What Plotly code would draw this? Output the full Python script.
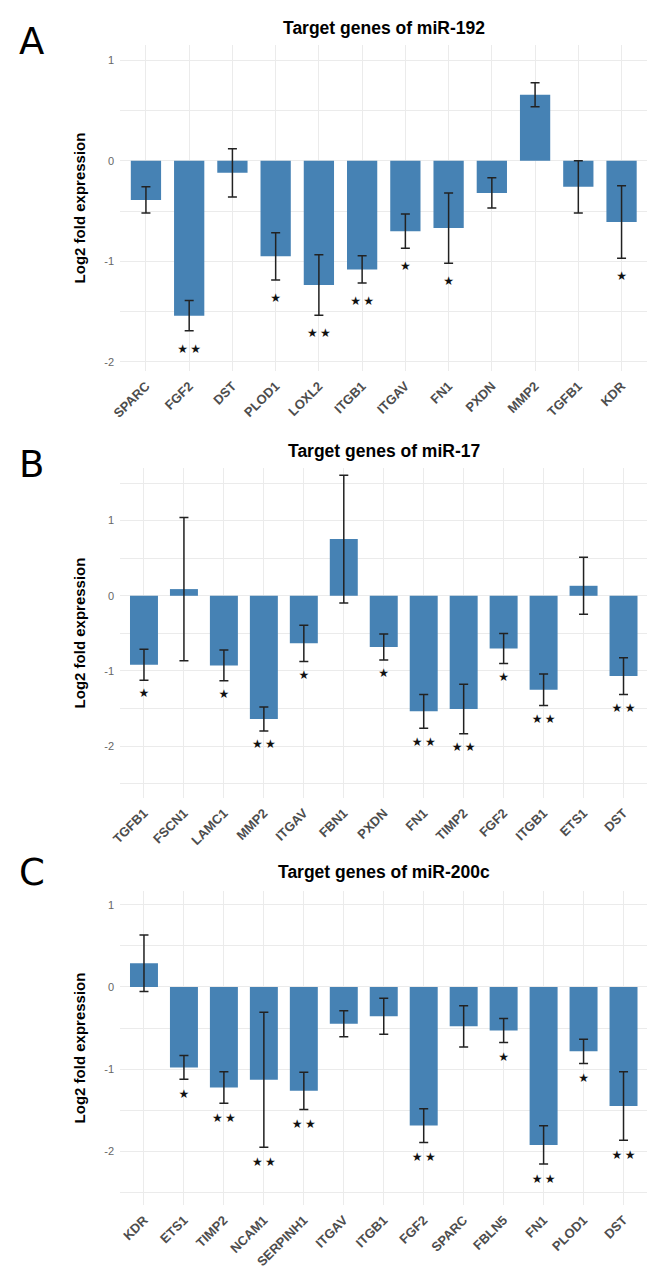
import plotly.graph_objects as go

# ---------------- data ----------------
genes_a = ["SPARC", "FGF2", "DST", "PLOD1", "LOXL2", "ITGB1", "ITGAV", "FN1", "PXDN", "MMP2", "TGFB1", "KDR"]
mean_a = [-0.39, -1.54, -0.12, -0.95, -1.235, -1.08, -0.70, -0.67, -0.32, 0.656, -0.26, -0.61]
se_a = [0.13, 0.15, 0.24, 0.235, 0.30, 0.135, 0.17, 0.35, 0.15, 0.12, 0.26, 0.36]
sig_a = ["", "**", "", "*", "**", "**", "*", "*", "", "", "", "*"]

genes_b = ["TGFB1", "FSCN1", "LAMC1", "MMP2", "ITGAV", "FBN1", "PXDN", "FN1", "TIMP2", "FGF2", "ITGB1", "ETS1", "DST"]
mean_b = [-0.917, 0.089, -0.926, -1.64, -0.633, 0.754, -0.682, -1.537, -1.506, -0.70, -1.25, 0.133, -1.068]
se_b = [0.205, 0.953, 0.205, 0.16, 0.24, 0.85, 0.173, 0.225, 0.33, 0.20, 0.21, 0.38, 0.245]
sig_b = ["*", "", "*", "**", "*", "", "*", "**", "**", "*", "**", "", "**"]

genes_c = ["KDR", "ETS1", "TIMP2", "NCAM1", "SERPINH1", "ITGAV", "ITGB1", "FGF2", "SPARC", "FBLN5", "FN1", "PLOD1", "DST"]
mean_c = [0.288, -0.978, -1.222, -1.129, -1.263, -0.447, -0.357, -1.685, -0.479, -0.528, -1.92, -0.783, -1.446]
se_c = [0.343, 0.145, 0.19, 0.82, 0.227, 0.158, 0.219, 0.205, 0.25, 0.146, 0.233, 0.148, 0.416]
sig_c = ["", "*", "**", "**", "**", "", "", "**", "", "*", "**", "*", "**"]

titles = ["Target genes of miR-192", "Target genes of miR-17", "Target genes of miR-200c"]
panel_letters = ["A", "B", "C"]
ytick_vals = [-2, -1, 0, 1]
ytick_text = ["-2", "-1", "0", "1"]

# ---------------- layout geometry ----------------
W, H = 655, 1274
x_dom = [112 / W, 639.5 / W]
panels = [
    dict(genes=genes_a, mean=mean_a, se=se_a, sig=sig_a, top=37, bot=363, yr=[-2.09, 1.15],
         title_y=20, letter_y=34),
    dict(genes=genes_b, mean=mean_b, se=se_b, sig=sig_b, top=460, bot=790, yr=[-2.69, 1.70],
         title_y=443, letter_y=457),
    dict(genes=genes_c, mean=mean_c, se=se_c, sig=sig_c, top=883, bot=1197, yr=[-2.65, 1.166],
         title_y=864, letter_y=865),
]

BAR = "#4682B4"
GRID = "#EBEBEB"
STAR_OFF = 0.19

fig = go.Figure()
annotations = []

for i, p in enumerate(panels):
    n = i + 1
    xa = "x" if n == 1 else f"x{n}"
    ya = "y" if n == 1 else f"y{n}"
    fig.add_trace(go.Bar(
        x=p["genes"], y=p["mean"], xaxis=xa, yaxis=ya,
        width=0.7, marker=dict(color=BAR, line=dict(width=0)),
        error_y=dict(type="data", array=p["se"], visible=True, color="#222222",
                     thickness=1.5, width=4.5),
        showlegend=False, hoverinfo="skip",
    ))
    # significance stars
    star_y = [m - s - STAR_OFF for m, s in zip(p["mean"], p["se"])]
    star_txt = [("★\u2009★" if s == "**" else ("★" if s == "*" else "")) for s in p["sig"]]
    fig.add_trace(go.Scatter(
        x=p["genes"], y=star_y, xaxis=xa, yaxis=ya, mode="text",
        text=star_txt, textposition="middle center",
        textfont=dict(size=12, color="#111111", family="DejaVu Sans"),
        showlegend=False, hoverinfo="skip",
    ))
    dom = [1 - p["bot"] / H, 1 - p["top"] / H]
    ncat = len(p["genes"])
    xkey = "xaxis" if n == 1 else f"xaxis{n}"
    ykey = "yaxis" if n == 1 else f"yaxis{n}"
    fig.update_layout(**{
        xkey: dict(domain=x_dom, anchor=ya, range=[-0.6, ncat - 0.4], showgrid=True,
                   gridcolor=GRID, gridwidth=1.1, zeroline=False, showline=False, ticks="",
                   tickangle=-45, automargin=False, ticklabelstandoff=4,
                   tickfont=dict(family="Liberation Sans", size=13, color="#4D4D4D", weight="bold"),
                   categoryorder="array", categoryarray=p["genes"]),
        ykey: dict(domain=dom, anchor=xa, range=p["yr"], showgrid=True, gridcolor=GRID,
                   gridwidth=1.1, zeroline=False, showline=False, ticks="",
                   tickvals=ytick_vals, ticktext=ytick_text, automargin=False,
                   ticklabelstandoff=5,
                   tickfont=dict(family="Liberation Sans", size=11, color="#666666"),
                   minor=dict(dtick=0.5, tick0=0, showgrid=True, gridcolor=GRID, gridwidth=0.7),
                   title=dict(text="<b>Log2 fold expression</b>",
                              font=dict(family="Liberation Sans", size=15, color="#000000"),
                              standoff=14)),
    })
    annotations.append(dict(
        text="<b>" + titles[i] + "</b>", xref="paper", yref="paper",
        x=(x_dom[0] + x_dom[1]) / 2, y=1 - p["title_y"] / H, xanchor="center", yanchor="middle",
        showarrow=False, font=dict(family="Liberation Sans", size=17.5, color="#000000"),
    ))
    annotations.append(dict(
        text=panel_letters[i], xref="paper", yref="paper",
        x=23.5 / W, y=1 - p["letter_y"] / H, xanchor="center", yanchor="middle",
        showarrow=False, font=dict(family="DejaVu Sans", size=37, color="#000000"),
    ))

fig.update_layout(
    width=W, height=H, margin=dict(l=0, r=0, t=0, b=0),
    paper_bgcolor="white", plot_bgcolor="white",
    annotations=annotations, bargap=0.3,
)

fig.write_html("out.html")
